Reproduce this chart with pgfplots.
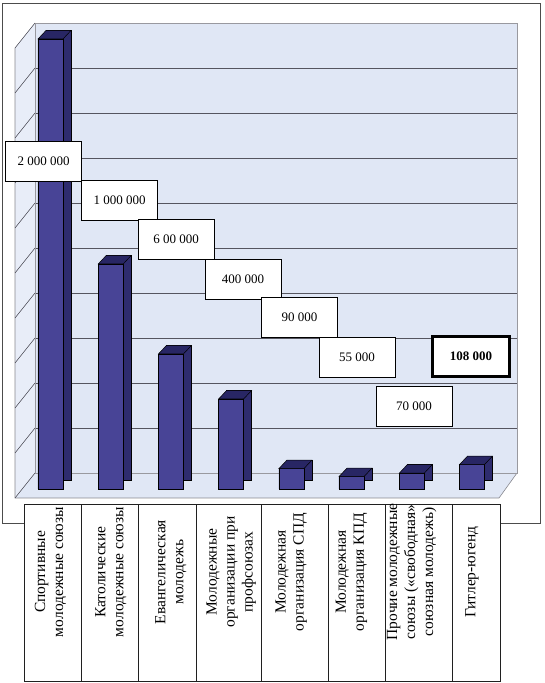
\documentclass[border=0pt]{standalone}
\usepackage{fontspec}
\setmainfont{Liberation Serif}
\usepackage{pgfplots}
\usepackage{pgfplotstable}
\pgfplotsset{compat=1.18}

\definecolor{wall}{RGB}{224,231,245}
\definecolor{barfront}{RGB}{72,68,150}
\definecolor{bartop}{RGB}{40,38,100}
\definecolor{barside}{RGB}{46,44,110}
\definecolor{gridc}{RGB}{85,85,95}

% top face of a bar, drawn at the bar's top
\pgfdeclareplotmark{topface}{%
  \pgfpathmoveto{\pgfpoint{-12.5pt}{0pt}}%
  \pgfpathlineto{\pgfpoint{12.5pt}{0pt}}%
  \pgfpathlineto{\pgfpoint{20.5pt}{8.5pt}}%
  \pgfpathlineto{\pgfpoint{-4.5pt}{8.5pt}}%
  \pgfpathclose
  \pgfusepathqfillstroke}

\pgfplotstableread{
idx value
0 2000000
1 1000000
2 600000
3 400000
4 90000
5 55000
6 70000
7 108000
}\orgs

\begin{document}
\begin{tikzpicture}[x=1pt,y=1pt]
\useasboundingbox (0,0) rectangle (544,683);
% outer frame
\draw[gray!60!black, line width=0.8pt] (2,160) rectangle (540,680);
% left wall and floor
\fill[wall!75!white] (35,660) -- (35,210) -- (15,185) -- (15,635) -- cycle;
\fill[wall] (15,185) -- (499,185) -- (517,210) -- (35,210) -- cycle;
\draw[gridc!70, line width=0.6pt] (15,635) -- (15,185) -- (499,185) -- (517,210);
\foreach \k in {0,...,10} \draw[gridc, line width=0.6pt] (35,210+45*\k) -- (15,185+45*\k);
% table under the chart
\draw[line width=0.9pt, gray!25!black, fill=white] (24,2) rectangle (500,179);
\foreach \x in {81,138.5,196,261,328,385,452} \draw[line width=0.9pt, gray!25!black] (\x,2) -- (\x,179);

% back wall with grid
\begin{axis}[
    at={(35pt,210pt)}, anchor=south west,
    scale only axis, width=482pt, height=450pt,
    xmin=0, xmax=1, ymin=0, ymax=2000000,
    xtick=\empty, ytick distance=200000,
    scaled y ticks=false,
    yticklabels={,,,,,,,,,,,,},
    major tick length=0pt,
    ymajorgrids, grid style={gridc, line width=0.8pt},
    axis background/.style={fill=wall},
    axis line style={gridc!60, line width=0.6pt}
]
\end{axis}

% bars
\begin{axis}[
    at={(20.4pt,194pt)}, anchor=south west,
    scale only axis, width=481.6pt, height=450pt,
    xmin=-0.5, xmax=7.5, ymin=0, ymax=2000000,
    clip=false,
    axis line style={draw=none},
    ytick=\empty, xtick=data, major tick length=0pt,
    xticklabels={
        {Спортивные\\молодежные союзы},
        {Католические\\молодежные союзы},
        {Евангелическая\\молодежь},
        {Молодежные\\организации при\\профсоюзах},
        {Молодежная\\организация СПД},
        {Молодежная\\организация КПД},
        {Прочие молодежные\\союзы («свободная»\\союзная молодежь)},
        {Гитлер-югенд}},
    xticklabel style={font=\fontsize{15.5}{18}\selectfont, align=center, rotate=90, anchor=center},
    xticklabel shift=83pt
]
\addplot[ybar, bar width=25pt, bar shift=8pt, yshift=8.5pt, fill=barside, draw=black, line width=0.5pt]
    table[x=idx, y=value] {\orgs};
\addplot[ybar, bar width=25pt, bar shift=0pt, fill=barfront, draw=black, line width=0.5pt]
    table[x=idx, y=value] {\orgs};
\addplot[only marks, mark=topface, mark options={fill=bartop, draw=black, line width=0.5pt}]
    table[x=idx, y=value] {\orgs};
\end{axis}

% value boxes
\tikzset{lbl/.style={draw=black, fill=white, minimum width=76pt, minimum height=40pt,
    inner sep=0pt, line width=0.6pt, font=\fontsize{13}{15}\selectfont}}
\node[lbl] at (43.5,522) {2 000 000};
\node[lbl] at (119.5,482.5) {1 000 000};
\node[lbl] at (176,444) {6 00 000};
\node[lbl] at (243,404) {400 000};
\node[lbl] at (299.5,365.5) {90 000};
\node[lbl] at (357,326) {55 000};
\node[lbl, line width=3pt, minimum width=77pt, minimum height=40pt, font=\fontsize{13}{15}\selectfont\bfseries] at (471,326.5) {108 000};
\node[lbl] at (414,277) {70 000};
\end{tikzpicture}
\end{document}
